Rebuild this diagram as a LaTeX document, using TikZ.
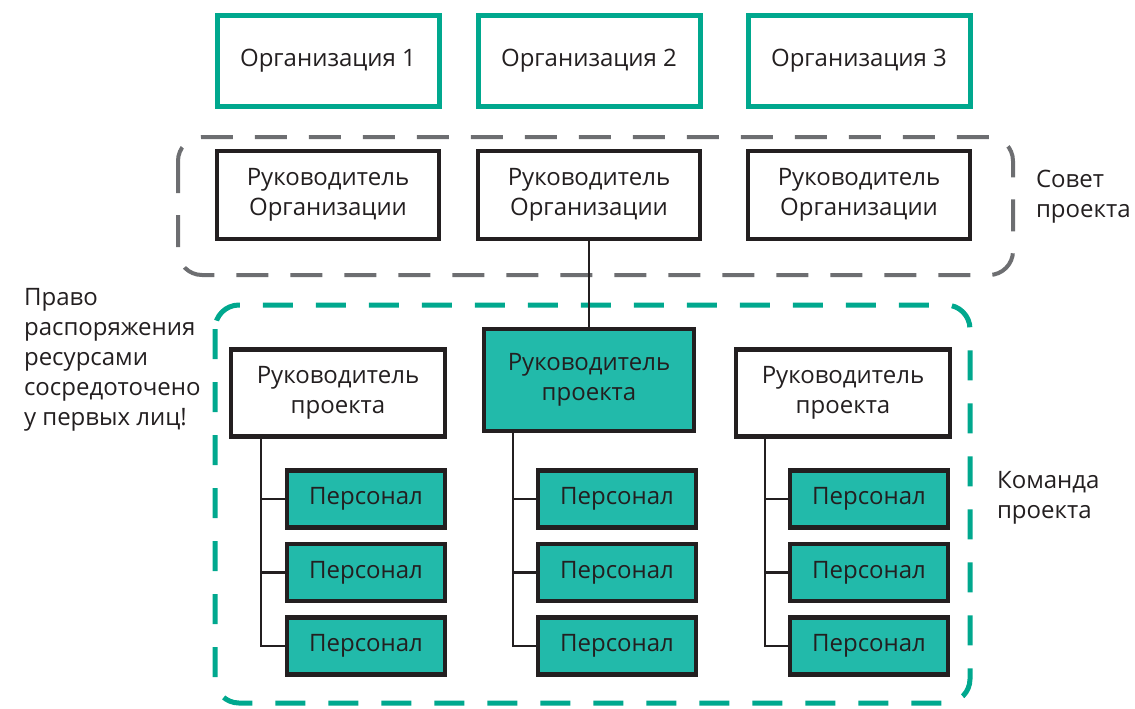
\documentclass[tikz,border=0pt]{standalone}
\usepackage{fontspec}
\setmainfont{Open Sans}
\usepackage{tikz}
\usetikzlibrary{positioning, calc}
\usepackage{xcolor}
\definecolor{tealline}{RGB}{0,168,142}
\definecolor{tealfill}{RGB}{34,186,170}
\definecolor{framegrey}{RGB}{109,110,113}
\definecolor{ink}{RGB}{35,31,32}
\tikzstyle{org} = [rectangle, minimum width=111pt, minimum height=45.5pt, draw=tealline, line width=2.5pt, fill=white, text=ink, align=center]
\tikzstyle{head} = [rectangle, minimum width=111pt, minimum height=44pt, draw=ink, line width=2.2pt, fill=white, text=ink, align=center]
\tikzstyle{lead} = [rectangle, minimum width=107pt, minimum height=43.5pt, draw=ink, line width=2.2pt, fill=white, text=ink, align=center]
\tikzstyle{staff} = [rectangle, minimum width=79pt, minimum height=28.5pt, draw=ink, line width=2.2pt, fill=tealfill, text=ink]
\tikzstyle{link} = [line width=1.2pt, draw=ink]
\tikzstyle{note} = [align=left, anchor=west, text=ink]

\begin{document}
\begin{tikzpicture}[x=0.5pt, y=-0.5pt, every node/.style={font=\fontsize{12}{15}\selectfont}]
    \useasboundingbox (0,0) rectangle (1135,708);

    % Frames
    \draw [framegrey, line width=2pt, dash pattern=on 16pt off 11pt, rounded corners=12pt] (178,137) rectangle (1013,275);
    \draw [tealline, line width=2.5pt, dash pattern=on 15pt off 11.5pt, rounded corners=12pt] (215,305) rectangle (970,703);

    % Organisations
    \node (org1) [org] at (328,61) {Организация 1};
    \node (org2) [org] at (589,61) {Организация 2};
    \node (org3) [org] at (859,61) {Организация 3};

    % Project board
    \node (head1) [head, below=20pt of org1] {Руководитель\\Организации};
    \node (head2) [head, below=20pt of org2] {Руководитель\\Организации};
    \node (head3) [head, below=20pt of org3] {Руководитель\\Организации};
    \node (board) [note] at (1029,197) {Совет\\проекта};

    % Project team
    \node (lead1) [lead] at (338,393) {Руководитель\\проекта};
    \node (lead2) [lead, fill=tealfill, minimum width=105pt, minimum height=51pt] at (589,380) {Руководитель\\проекта};
    \node (lead3) [lead] at (843,393) {Руководитель\\проекта};
    \node (team) [note] at (990,498) {Команда\\проекта};

    \node (staff11) [staff] at (366,499) {Персонал};
    \node (staff12) [staff, below=6pt of staff11] {Персонал};
    \node (staff13) [staff, below=6pt of staff12] {Персонал};
    \node (staff21) [staff] at (617,499) {Персонал};
    \node (staff22) [staff, below=6pt of staff21] {Персонал};
    \node (staff23) [staff, below=6pt of staff22] {Персонал};
    \node (staff31) [staff] at (869,499) {Персонал};
    \node (staff32) [staff, below=6pt of staff31] {Персонал};
    \node (staff33) [staff, below=6pt of staff32] {Персонал};

    \node (rights) [note] at (17,360) {Право\\распоряжения\\ресурсами\\сосредоточено\\у первых лиц!};

    % Links
    \coordinate (trunk1) at (261,0);
    \coordinate (trunk2) at (513,0);
    \coordinate (trunk3) at (765,0);
    \draw [link] (head2) -- (lead2);
    \draw [link] (lead1.south -| trunk1) |- (staff11.west);
    \draw [link] (lead1.south -| trunk1) |- (staff12.west);
    \draw [link] (lead1.south -| trunk1) |- (staff13.west);
    \draw [link] (lead2.south -| trunk2) |- (staff21.west);
    \draw [link] (lead2.south -| trunk2) |- (staff22.west);
    \draw [link] (lead2.south -| trunk2) |- (staff23.west);
    \draw [link] (lead3.south -| trunk3) |- (staff31.west);
    \draw [link] (lead3.south -| trunk3) |- (staff32.west);
    \draw [link] (lead3.south -| trunk3) |- (staff33.west);
\end{tikzpicture}
\end{document}
